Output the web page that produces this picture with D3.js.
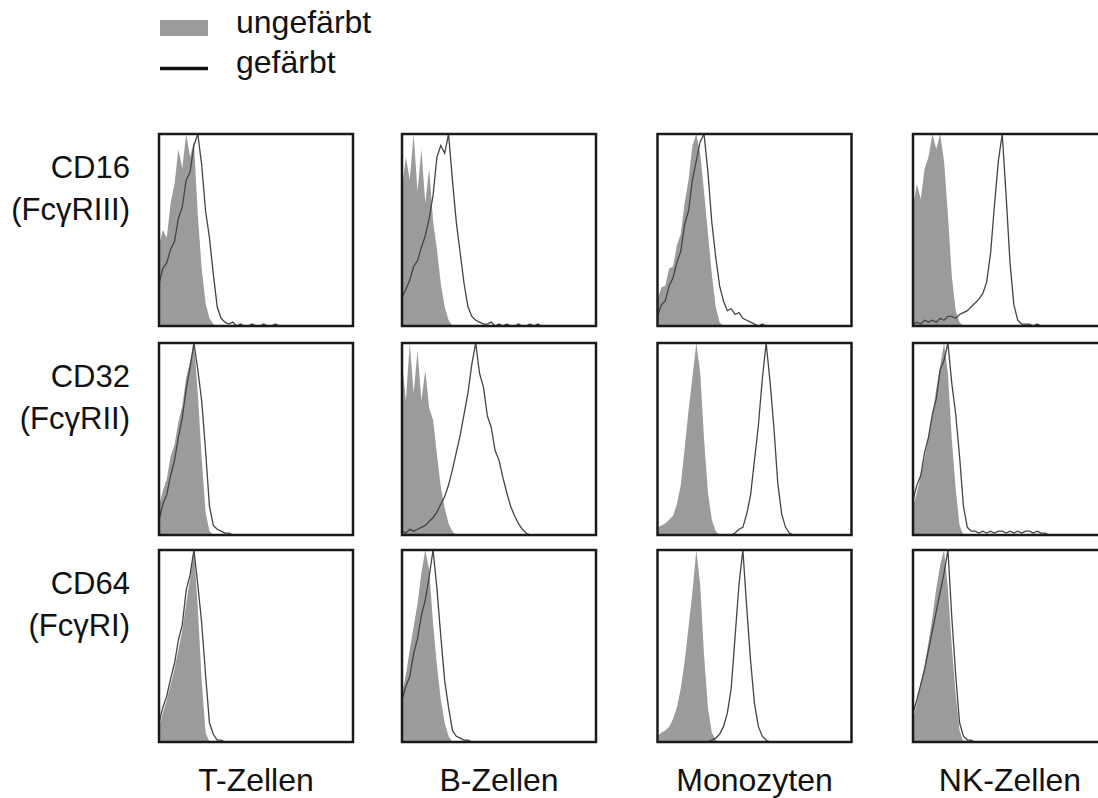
<!DOCTYPE html>
<html>
<head>
<meta charset="utf-8">
<script src="https://cdn.jsdelivr.net/npm/d3@7"></script>
<style>
  body { margin: 0; background: #fff; }
  text { font-family: "Liberation Sans", Arial, sans-serif; fill: #111; }
</style>
</head>
<body>
<div id="chart"></div>
<script>
// Row / column labels
const markers = ["CD16", "CD32", "CD64"];
const receptors = ["(FcγRIII)", "(FcγRII)", "(FcγRI)"];
const cellTypes = ["T-Zellen", "B-Zellen", "Monozyten", "NK-Zellen"];
const legendLabels = ["ungefärbt", "gefärbt"];

// Histogram counts (% of max), one value per 2 channels of a 0-100 channel axis
const ungef_CD16_T    = [42, 50, 46, 64, 74, 92, 82, 100, 88, 96, 58, 30, 12, 4, 1, 0];
const gef_CD16_T      = [22, 30, 33, 40, 44, 56, 62, 76, 80, 94, 100, 84, 60, 46, 27, 10, 4, 2, 1, 2, 0, 1, 0, 0, 1, 0, 0, 1, 0, 0, 1, 0];
const ungef_CD16_B    = [72, 88, 76, 100, 70, 92, 64, 82, 55, 40, 22, 10, 3, 0];
const gef_CD16_B      = [15, 19, 24, 31, 34, 41, 47, 56, 68, 88, 94, 90, 100, 76, 54, 38, 22, 10, 5, 3, 2, 1, 1, 2, 0, 1, 0, 1, 0, 0, 1, 0, 0, 1, 0, 1, 0];
const ungef_CD16_Mono = [14, 20, 21, 30, 31, 42, 48, 64, 76, 94, 100, 90, 70, 48, 27, 10, 2, 0];
const gef_CD16_Mono   = [5, 11, 13, 21, 25, 33, 39, 53, 60, 76, 86, 96, 100, 80, 54, 36, 21, 13, 8, 9, 6, 7, 4, 3, 2, 1, 0, 1, 0];
const ungef_CD16_NK   = [62, 74, 66, 82, 88, 100, 92, 100, 86, 58, 26, 8, 2, 0];
const gef_CD16_NK     = [1, 2, 1, 3, 2, 3, 2, 4, 3, 5, 5, 4, 6, 7, 8, 10, 12, 14, 17, 23, 38, 63, 86, 100, 68, 33, 11, 3, 1, 1, 1, 0, 1, 0];

const ungef_CD32_T    = [15, 23, 29, 41, 47, 59, 67, 82, 90, 100, 74, 40, 12, 2, 0];
const gef_CD32_T      = [8, 16, 21, 31, 39, 51, 61, 76, 87, 100, 86, 70, 44, 15, 5, 3, 2, 1, 1, 0];
const ungef_CD32_B    = [90, 70, 100, 74, 96, 70, 86, 66, 60, 42, 25, 14, 6, 2, 0];
const gef_CD32_B      = [2, 1, 3, 2, 3, 4, 5, 7, 9, 12, 16, 20, 26, 34, 43, 52, 63, 74, 89, 100, 84, 77, 62, 56, 44, 39, 30, 22, 15, 10, 6, 3, 1, 0];
const ungef_CD32_Mono = [4, 5, 6, 8, 10, 16, 26, 45, 65, 82, 100, 85, 50, 22, 8, 2, 0];
const gef_CD32_Mono   = [0, 0, 0, 0, 0, 0, 0, 0, 0, 0, 0, 0, 0, 0, 0, 0, 0, 0, 0, 0, 1, 3, 4, 11, 21, 39, 57, 81, 100, 80, 56, 27, 11, 4, 1, 0];
const ungef_CD32_NK   = [15, 22, 31, 40, 51, 62, 76, 88, 100, 84, 50, 24, 5, 0];
const gef_CD32_NK     = [18, 26, 31, 43, 51, 63, 71, 86, 91, 100, 79, 63, 41, 15, 4, 2, 2, 1, 2, 1, 2, 1, 2, 2, 1, 2, 1, 2, 1, 2, 2, 1, 2, 1, 1, 0];

const ungef_CD64_T    = [8, 15, 22, 30, 38, 48, 58, 72, 85, 100, 70, 32, 5, 0];
const gef_CD64_T      = [10, 18, 24, 33, 41, 53, 61, 79, 87, 100, 82, 62, 35, 10, 4, 1, 1, 0];
const ungef_CD64_B    = [25, 35, 48, 60, 72, 88, 100, 90, 62, 40, 22, 10, 3, 0];
const gef_CD64_B      = [22, 29, 34, 46, 54, 66, 74, 86, 100, 80, 55, 32, 18, 6, 3, 2, 1, 1, 0];
const ungef_CD64_Mono = [3, 5, 6, 8, 12, 18, 28, 42, 60, 78, 100, 82, 45, 18, 5, 1, 0];
const gef_CD64_Mono   = [0, 0, 0, 0, 0, 0, 0, 0, 0, 0, 0, 0, 0, 0, 1, 2, 4, 8, 15, 28, 55, 82, 100, 70, 42, 20, 8, 3, 1, 0];
const ungef_CD64_NK   = [12, 20, 30, 40, 52, 65, 80, 92, 100, 80, 50, 25, 6, 0];
const gef_CD64_NK     = [15, 22, 30, 38, 48, 58, 68, 78, 88, 100, 65, 35, 10, 3, 1, 1, 0];

const binWidth = 2;

// grid of panels built from the arrays above
const panels = [
  [[ungef_CD16_T, gef_CD16_T], [ungef_CD16_B, gef_CD16_B], [ungef_CD16_Mono, gef_CD16_Mono], [ungef_CD16_NK, gef_CD16_NK]],
  [[ungef_CD32_T, gef_CD32_T], [ungef_CD32_B, gef_CD32_B], [ungef_CD32_Mono, gef_CD32_Mono], [ungef_CD32_NK, gef_CD32_NK]],
  [[ungef_CD64_T, gef_CD64_T], [ungef_CD64_B, gef_CD64_B], [ungef_CD64_Mono, gef_CD64_Mono], [ungef_CD64_NK, gef_CD64_NK]]
];

// layout
const colX = [159, 402, 657.5, 913],
    rowY = [134, 343, 550],
    pw = 194, ph = 192;
const grayFill = "#9b9b9b";

const svg = d3.select("#chart")
  .append("svg")
    .attr("width", 1098)
    .attr("height", 798);

// x / y scales shared by every panel
const x = d3.scaleLinear().domain([0, 100]).range([0, pw]);
const y = d3.scaleLinear().domain([0, 100]).range([ph, 0]);

const area = d3.area()
  .x((d, i) => x(i * binWidth))
  .y0(ph)
  .y1(d => y(d));
const line = d3.line()
  .x((d, i) => x(i * binWidth))
  .y(d => y(d));

svg.append("defs").append("clipPath")
    .attr("id", "clip")
  .append("rect")
    .attr("width", pw)
    .attr("height", ph);

panels.forEach((row, r) => {
  row.forEach((cell, c) => {
    const g = svg.append("g")
      .attr("transform", `translate(${colX[c]},${rowY[r]})`);
    const inner = g.append("g").attr("clip-path", "url(#clip)");
    inner.append("path")
      .datum(cell[0])
      .attr("d", area)
      .attr("fill", grayFill);
    inner.append("path")
      .datum(cell[1])
      .attr("d", line)
      .attr("fill", "none")
      .attr("stroke", "#444")
      .attr("stroke-width", 1.3);
    g.append("rect")
      .attr("width", pw)
      .attr("height", ph)
      .attr("fill", "none")
      .attr("stroke", "#1a1a1a")
      .attr("stroke-width", 2.5);
  });

  // row labels
  svg.append("text")
    .attr("x", 130)
    .attr("y", rowY[r] + 44)
    .attr("text-anchor", "end")
    .style("font-size", "31px")
    .text(markers[r]);
  svg.append("text")
    .attr("x", 130)
    .attr("y", rowY[r] + 86)
    .attr("text-anchor", "end")
    .style("font-size", "31px")
    .text(receptors[r]);
});

// column labels
cellTypes.forEach((name, c) => {
  svg.append("text")
    .attr("x", colX[c] + pw / 2)
    .attr("y", 791)
    .attr("text-anchor", "middle")
    .style("font-size", "32px")
    .text(name);
});

// legend
svg.append("rect")
  .attr("x", 160).attr("y", 20)
  .attr("width", 48).attr("height", 16)
  .attr("fill", grayFill);
svg.append("line")
  .attr("x1", 160).attr("x2", 208)
  .attr("y1", 68.5).attr("y2", 68.5)
  .attr("stroke", "#111")
  .attr("stroke-width", 3.5);
legendLabels.forEach((t, i) => {
  svg.append("text")
    .attr("x", 236)
    .attr("y", 33 + i * 40)
    .style("font-size", "32px")
    .text(t);
});
</script>
</body>
</html>
